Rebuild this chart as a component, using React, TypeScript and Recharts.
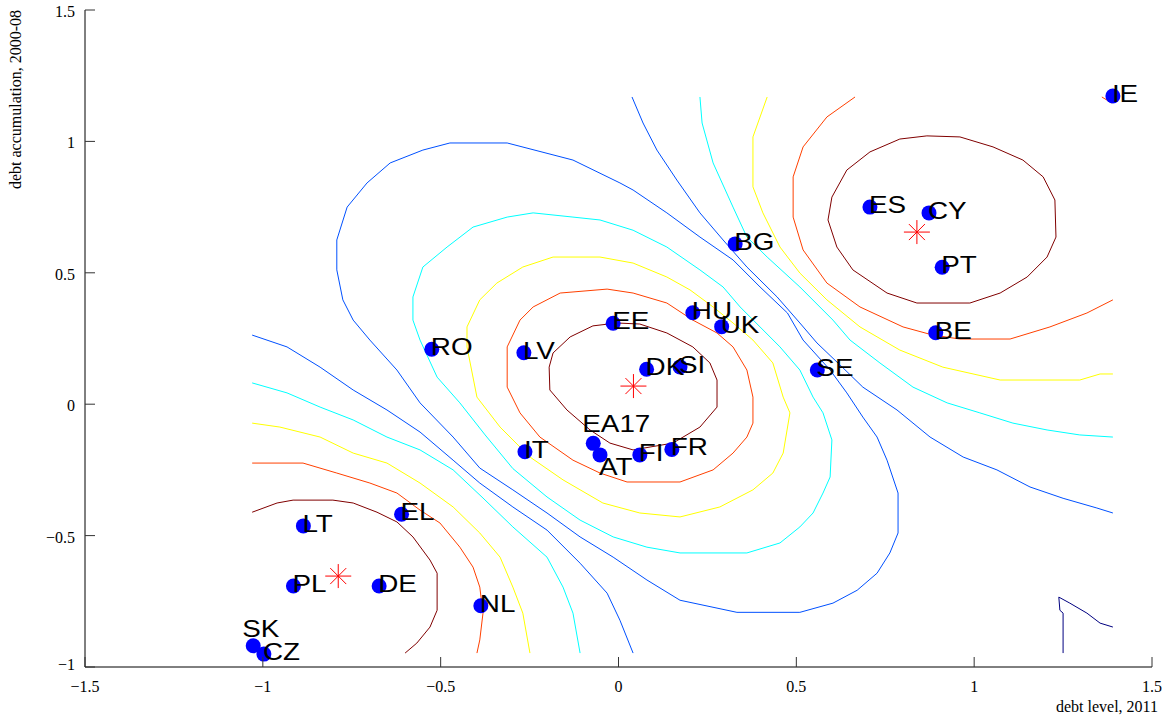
import React from 'react';
import { ComposedChart, Line, Scatter, XAxis, YAxis } from 'recharts';

type Pt = [number, number];

// countries: debt level 2011 (x) vs debt accumulation 2000-08 (y)
const countryNames = ['IE', 'ES', 'CY', 'PT', 'BG', 'BE', 'SE', 'HU', 'UK', 'EE', 'DK', 'SI', 'LV', 'RO', 'EA17', 'AT', 'FI', 'FR', 'IT', 'EL', 'LT', 'PL', 'DE', 'NL', 'SK', 'CZ'];
const debtLevel = [1.39, 0.707, 0.873, 0.91, 0.328, 0.892, 0.559, 0.209, 0.29, -0.015, 0.079, 0.173, -0.266, -0.525, -0.071, -0.052, 0.06, 0.15, -0.263, -0.61, -0.886, -0.914, -0.673, -0.387, -1.027, -0.997];
const debtAccum = [1.173, 0.75, 0.728, 0.521, 0.61, 0.272, 0.13, 0.348, 0.295, 0.308, 0.133, 0.142, 0.196, 0.209, -0.149, -0.193, -0.193, -0.172, -0.181, -0.419, -0.463, -0.692, -0.692, -0.767, -0.919, -0.951];

// cluster centres (red asterisks)
const centroidX = [0.042, 0.839, -0.788];
const centroidY = [0.069, 0.655, -0.654];

const xTicks = [-1.5, -1, -0.5, 0, 0.5, 1, 1.5];
const yTicks = [-1, -0.5, 0, 0.5, 1, 1.5];

// contour lines
const centerDarkRed: Pt[] = [[-0.004, 0.309], [0.06, 0.305], [0.136, 0.271], [0.209, 0.218], [0.257, 0.157], [0.277, 0.092], [0.277, -0.011], [0.229, -0.087], [0.153, -0.148], [0.041, -0.174], [-0.024, -0.148], [-0.08, -0.098], [-0.145, -0.022], [-0.193, 0.054], [-0.195, 0.141], [-0.184, 0.195], [-0.136, 0.256], [-0.072, 0.298], [-0.004, 0.309]];
const centerOrange: Pt[] = [[-0.032, 0.438], [0.041, 0.423], [0.136, 0.385], [0.209, 0.32], [0.277, 0.271], [0.322, 0.218], [0.361, 0.13], [0.378, 0.027], [0.378, -0.072], [0.361, -0.125], [0.322, -0.186], [0.266, -0.25], [0.173, -0.296], [0.024, -0.296], [-0.052, -0.262], [-0.128, -0.213], [-0.221, -0.125], [-0.277, -0.033], [-0.313, 0.065], [-0.313, 0.218], [-0.277, 0.32], [-0.24, 0.37], [-0.164, 0.423], [-0.032, 0.438]];
const centerYellow: Pt[] = [[-0.052, 0.56], [0.041, 0.537], [0.136, 0.484], [0.201, 0.435], [0.266, 0.37], [0.322, 0.309], [0.378, 0.244], [0.434, 0.157], [0.463, 0.027], [0.482, -0.033], [0.463, -0.186], [0.434, -0.262], [0.378, -0.326], [0.285, -0.391], [0.173, -0.429], [0.06, -0.414], [-0.044, -0.376], [-0.156, -0.288], [-0.249, -0.201], [-0.333, -0.087], [-0.398, 0.027], [-0.426, 0.218], [-0.426, 0.294], [-0.39, 0.397], [-0.342, 0.461], [-0.269, 0.522], [-0.184, 0.56], [-0.052, 0.56]];
const centerCyan: Pt[] = [[-0.052, 0.701], [0.041, 0.662], [0.136, 0.598], [0.229, 0.511], [0.294, 0.446], [0.342, 0.37], [0.398, 0.294], [0.454, 0.218], [0.51, 0.13], [0.547, 0.027], [0.575, -0.033], [0.6, -0.136], [0.595, -0.277], [0.575, -0.338], [0.547, -0.414], [0.51, -0.467], [0.454, -0.528], [0.361, -0.566], [0.173, -0.566], [0.08, -0.544], [-0.015, -0.505], [-0.108, -0.441], [-0.201, -0.353], [-0.297, -0.245], [-0.375, -0.117], [-0.446, 0.005], [-0.51, 0.103], [-0.558, 0.244], [-0.578, 0.32], [-0.578, 0.408], [-0.55, 0.522], [-0.482, 0.598], [-0.409, 0.674], [-0.313, 0.712], [-0.24, 0.728], [-0.128, 0.712], [-0.052, 0.701]];
const centerBlue: Pt[] = [[0.004, 0.842], [-0.128, 0.929], [-0.313, 0.994], [-0.474, 0.994], [-0.55, 0.967], [-0.642, 0.918], [-0.707, 0.842], [-0.763, 0.75], [-0.792, 0.625], [-0.792, 0.511], [-0.775, 0.397], [-0.746, 0.32], [-0.699, 0.244], [-0.623, 0.13], [-0.558, 0.005], [-0.465, -0.125], [-0.39, -0.243], [-0.297, -0.326], [-0.201, -0.414], [-0.108, -0.505], [-0.015, -0.582], [0.08, -0.669], [0.173, -0.746], [0.333, -0.792], [0.51, -0.792], [0.603, -0.757], [0.671, -0.708], [0.727, -0.643], [0.763, -0.566], [0.786, -0.49], [0.786, -0.338], [0.755, -0.213], [0.727, -0.125], [0.687, -0.049], [0.642, 0.043], [0.595, 0.13], [0.519, 0.244], [0.475, 0.347], [0.398, 0.446], [0.322, 0.549], [0.229, 0.636], [0.136, 0.728], [0.041, 0.815], [0.004, 0.842]];

const topRightDarkRed: Pt[] = [[0.867, 1.021], [0.96, 1.017], [1.053, 0.979], [1.137, 0.929], [1.194, 0.865], [1.227, 0.777], [1.23, 0.636], [1.205, 0.56], [1.149, 0.484], [1.073, 0.423], [0.988, 0.385], [0.839, 0.385], [0.755, 0.423], [0.659, 0.511], [0.614, 0.598], [0.589, 0.701], [0.6, 0.788], [0.642, 0.891], [0.707, 0.96], [0.791, 1.009], [0.867, 1.021]];
const topRightOrange: Pt[] = [[0.665, 1.169], [0.586, 1.093], [0.519, 0.979], [0.491, 0.865], [0.491, 0.712], [0.519, 0.587], [0.586, 0.461], [0.679, 0.37], [0.8, 0.294], [0.884, 0.263], [0.96, 0.248], [1.101, 0.248], [1.213, 0.294], [1.317, 0.347], [1.39, 0.397]];
const topRightYellow: Pt[] = [[0.418, 1.169], [0.378, 1.017], [0.378, 0.827], [0.406, 0.728], [0.454, 0.598], [0.51, 0.499], [0.586, 0.397], [0.679, 0.294], [0.791, 0.206], [0.912, 0.141], [1.073, 0.092], [1.297, 0.092], [1.354, 0.115], [1.39, 0.115]];
const topRightCyan: Pt[] = [[0.229, 1.169], [0.235, 1.07], [0.266, 0.918], [0.322, 0.75], [0.361, 0.636], [0.418, 0.56], [0.51, 0.446], [0.603, 0.32], [0.651, 0.244], [0.735, 0.157], [0.828, 0.065], [0.924, 0.005], [1.016, -0.033], [1.109, -0.072], [1.205, -0.098], [1.297, -0.117], [1.39, -0.125]];
const topRightBlue: Pt[] = [[0.038, 1.169], [0.069, 1.07], [0.108, 0.967], [0.164, 0.853], [0.229, 0.728], [0.294, 0.625], [0.361, 0.522], [0.446, 0.408], [0.51, 0.309], [0.558, 0.233], [0.623, 0.149], [0.687, 0.065], [0.783, -0.022], [0.876, -0.125], [0.969, -0.201], [1.064, -0.25], [1.157, -0.315], [1.25, -0.358], [1.345, -0.395], [1.39, -0.414]];
const irelandOrange: Pt[] = [[1.359, 1.169], [1.387, 1.146]];

const lowLeftDarkRed: Pt[] = [[-1.03, -0.411], [-0.96, -0.376], [-0.915, -0.365], [-0.803, -0.365], [-0.746, -0.376], [-0.679, -0.411], [-0.623, -0.448], [-0.578, -0.505], [-0.53, -0.593], [-0.51, -0.643], [-0.51, -0.784], [-0.53, -0.848], [-0.567, -0.909], [-0.6, -0.947]];
const lowLeftOrange: Pt[] = [[-1.03, -0.224], [-0.887, -0.224], [-0.792, -0.262], [-0.699, -0.3], [-0.623, -0.338], [-0.558, -0.403], [-0.502, -0.452], [-0.446, -0.544], [-0.409, -0.62], [-0.39, -0.696], [-0.381, -0.795], [-0.39, -0.897], [-0.398, -0.947]];
const lowLeftYellow: Pt[] = [[-1.03, -0.072], [-0.952, -0.087], [-0.839, -0.125], [-0.746, -0.186], [-0.651, -0.224], [-0.558, -0.3], [-0.465, -0.391], [-0.39, -0.49], [-0.333, -0.582], [-0.297, -0.696], [-0.269, -0.795], [-0.249, -0.947]];
const lowLeftCyan: Pt[] = [[-1.03, 0.081], [-0.932, 0.043], [-0.839, -0.011], [-0.746, -0.06], [-0.651, -0.125], [-0.558, -0.174], [-0.465, -0.25], [-0.381, -0.357], [-0.297, -0.467], [-0.201, -0.582], [-0.156, -0.696], [-0.128, -0.795], [-0.108, -0.947]];
const lowLeftBlue: Pt[] = [[-1.03, 0.263], [-0.932, 0.218], [-0.839, 0.141], [-0.746, 0.054], [-0.651, -0.022], [-0.558, -0.106], [-0.465, -0.213], [-0.39, -0.3], [-0.297, -0.391], [-0.201, -0.479], [-0.108, -0.605], [-0.032, -0.719], [0.004, -0.822], [0.041, -0.947]];

const cornerNavy: Pt[] = [[1.25, -0.947], [1.25, -0.795], [1.241, -0.784], [1.238, -0.734], [1.269, -0.757], [1.317, -0.795], [1.354, -0.833], [1.39, -0.848]];

const DARK_RED = '#800000';
const ORANGE = '#ff4000';
const YELLOW = '#ffff00';
const CYAN = '#00ffff';
const BLUE = '#0050ff';

const contours: { key: string; pts: Pt[]; color: string }[] = [
  { key: 'cBlue', pts: centerBlue, color: BLUE },
  { key: 'cCyan', pts: centerCyan, color: CYAN },
  { key: 'cYellow', pts: centerYellow, color: YELLOW },
  { key: 'cOrange', pts: centerOrange, color: ORANGE },
  { key: 'cDarkRed', pts: centerDarkRed, color: DARK_RED },
  { key: 'trBlue', pts: topRightBlue, color: BLUE },
  { key: 'trCyan', pts: topRightCyan, color: CYAN },
  { key: 'trYellow', pts: topRightYellow, color: YELLOW },
  { key: 'trOrange', pts: topRightOrange, color: ORANGE },
  { key: 'trDarkRed', pts: topRightDarkRed, color: DARK_RED },
  { key: 'ieOrange', pts: irelandOrange, color: ORANGE },
  { key: 'llBlue', pts: lowLeftBlue, color: BLUE },
  { key: 'llCyan', pts: lowLeftCyan, color: CYAN },
  { key: 'llYellow', pts: lowLeftYellow, color: YELLOW },
  { key: 'llOrange', pts: lowLeftOrange, color: ORANGE },
  { key: 'llDarkRed', pts: lowLeftDarkRed, color: DARK_RED },
];

// a few labels were nudged off their dot in the original (pixels)
const labelNudge: Record<string, [number, number]> = {
  EA17: [-10, -17],
  AT: [0, 14],
  SK: [-10, -15],
};

const countries = countryNames.map((name, i) => ({ name, x: debtLevel[i], y: debtAccum[i] }));
const centroids = centroidX.map((x, i) => ({ x, y: centroidY[i] }));
const toXY = (pts: Pt[]) => pts.map(([x, y]) => ({ x, y }));

const fmt = (v: number) => (v < 0 ? '\u2212' : '') + Math.abs(v);
const serif = '"Liberation Serif", "Times New Roman", serif';
const TICK = '#333';

const BottomTick = (p: any) => (
  <g>
    <line x1={p.x} y1={p.y} x2={p.x} y2={p.y - 10} stroke={TICK} />
    <text x={p.x} y={p.y + 25} textAnchor="middle" fontFamily={serif} fontSize={16} fill="#000">
      {fmt(p.payload.value)}
    </text>
  </g>
);
const TopTick = (p: any) => <line x1={p.x} y1={p.y} x2={p.x} y2={p.y + 10} stroke={TICK} />;
const LeftTick = (p: any) => (
  <g>
    <line x1={p.x} y1={p.y} x2={p.x + 10} y2={p.y} stroke={TICK} />
    <text x={p.x - 10} y={p.y + (p.payload.value === -1 ? 3 : 7)} textAnchor="end" fontFamily={serif} fontSize={16} fill="#000">
      {fmt(p.payload.value)}
    </text>
  </g>
);
const RightTick = (p: any) => <line x1={p.x} y1={p.y} x2={p.x - 10} y2={p.y} stroke={TICK} />;

const CountryDot = (p: any) => <circle cx={p.cx} cy={p.cy} r={7.5} fill="#0000ff" />;
const CountryLabel = (p: any) => {
  const [dx, dy] = labelNudge[p.payload.name] || [0, 0];
  return (
    <text
      transform={`translate(${p.cx - 1 + dx},${p.cy + 6 + dy}) scale(1.16,1)`}
      fontFamily='"Liberation Sans", Arial, sans-serif'
      fontSize={24}
      fill="#000"
    >
      {p.payload.name}
    </text>
  );
};
const Asterisk = (p: any) => (
  <g stroke="#ff0000" strokeWidth={1}>
    <line x1={p.cx - 13} y1={p.cy} x2={p.cx + 13} y2={p.cy} />
    <line x1={p.cx} y1={p.cy - 12} x2={p.cx} y2={p.cy + 12} />
    <line x1={p.cx - 8} y1={p.cy - 8} x2={p.cx + 8} y2={p.cy + 8} />
    <line x1={p.cx - 8} y1={p.cy + 8} x2={p.cx + 8} y2={p.cy - 8} />
  </g>
);

export default function App() {
  return (
    <div style={{ position: 'absolute', left: 0, top: 0, width: 1174, height: 728, background: '#fff' }}>
      <ComposedChart width={1174} height={728} margin={{ top: 10, right: 22, bottom: 0, left: 0 }}>
        <XAxis
          type="number"
          dataKey="x"
          domain={[-1.5, 1.5]}
          ticks={xTicks}
          allowDataOverflow
          height={61}
          tickSize={0}
          tickMargin={0}
          tickLine={false}
          tick={BottomTick}
          axisLine={{ stroke: '#000' }}
        />
        <XAxis
          xAxisId="t"
          orientation="top"
          type="number"
          dataKey="x"
          domain={[-1.5, 1.5]}
          ticks={xTicks}
          allowDataOverflow
          height={0}
          tickSize={0}
          tickMargin={0}
          tickLine={false}
          tick={TopTick}
          axisLine={{ stroke: '#000' }}
        />
        <YAxis
          type="number"
          dataKey="y"
          domain={[-1, 1.5]}
          ticks={yTicks}
          allowDataOverflow
          width={85}
          tickSize={0}
          tickMargin={0}
          tickLine={false}
          tick={LeftTick}
          axisLine={{ stroke: '#000' }}
        />
        <YAxis
          yAxisId="r"
          orientation="right"
          type="number"
          dataKey="y"
          domain={[-1, 1.5]}
          ticks={yTicks}
          allowDataOverflow
          width={0}
          tickSize={0}
          tickMargin={0}
          tickLine={false}
          tick={RightTick}
          axisLine={{ stroke: '#000' }}
        />
        {contours.map((c) => (
          <Line
            key={c.key}
            data={toXY(c.pts)}
            dataKey="y"
            type="linear"
            stroke={c.color}
            strokeWidth={1}
            dot={false}
            activeDot={false}
            isAnimationActive={false}
          />
        ))}
        <Line
          xAxisId="t"
          yAxisId="r"
          data={toXY(cornerNavy)}
          dataKey="y"
          type="linear"
          stroke="#000080"
          strokeWidth={1}
          dot={false}
          activeDot={false}
          isAnimationActive={false}
        />
        <Scatter data={countries} dataKey="y" shape={CountryDot} isAnimationActive={false} />
        <Scatter data={countries} dataKey="y" shape={CountryLabel} isAnimationActive={false} />
        <Scatter data={centroids} dataKey="y" shape={Asterisk} isAnimationActive={false} />
      </ComposedChart>
      <svg width={1174} height={728} style={{ position: 'absolute', left: 0, top: 0, pointerEvents: 'none' }}>
        <text transform="translate(21,10) rotate(-90)" textAnchor="end" fontFamily={serif} fontSize={16} fill="#000">
          debt accumulation, 2000-08
        </text>
        <text x={1158} y={712} textAnchor="end" fontFamily={serif} fontSize={16} fill="#000">
          debt level, 2011
        </text>
      </svg>
    </div>
  );
}
